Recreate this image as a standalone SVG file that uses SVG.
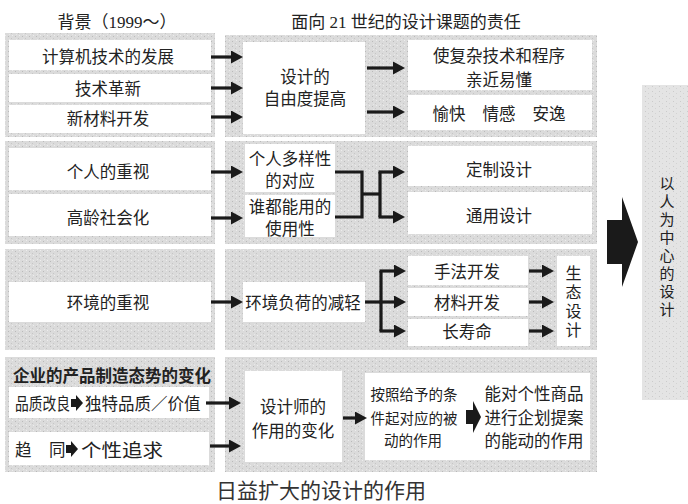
<svg xmlns="http://www.w3.org/2000/svg" width="688" height="504" viewBox="0 0 688 504">
<defs>
<pattern id="dots" width="7" height="5" patternUnits="userSpaceOnUse">
<rect width="7" height="5" fill="#dbdbdb"/>
<rect x="1" y="1" width="1" height="1" fill="#bababa"/>
<rect x="4" y="3" width="1" height="1" fill="#c6c6c6"/>
<rect x="5" y="0" width="1" height="1" fill="#ededed"/>
<rect x="2" y="4" width="1" height="1" fill="#e8e8e8"/>
</pattern>
<pattern id="dots2" width="7" height="5" patternUnits="userSpaceOnUse">
<rect width="7" height="5" fill="#e4e4e4"/>
<rect x="1" y="1" width="1" height="1" fill="#cbcbcb"/>
<rect x="4" y="3" width="1" height="1" fill="#d3d3d3"/>
</pattern>
<marker id="ah" markerUnits="userSpaceOnUse" markerWidth="12" markerHeight="13" viewBox="0 0 12 13" refX="1" refY="6.5" orient="auto">
<path d="M0,0 L12,6.5 L0,13 z" fill="#1a1a1a"/>
</marker>
</defs>
<style>
.p{fill:url(#dots)}
.p2{fill:url(#dots2)}
.w{fill:#ffffff}
text{font-family:"Noto Sans CJK SC","Noto Sans CJK JP",sans-serif;fill:#222;font-size:16.5px;text-anchor:middle;dominant-baseline:central}
.h{font-family:"Liberation Serif","Noto Sans CJK SC",serif;font-size:17px}
.s{font-size:14.5px}
.v{font-size:15px;writing-mode:vertical-rl;text-anchor:start;letter-spacing:3px}
.e{font-size:16px;writing-mode:vertical-rl;text-anchor:start;letter-spacing:3px}
.l{text-anchor:start}
.cap{font-size:21px;fill:#333}
.c{stroke:#1a1a1a;stroke-width:3.2;fill:none}
.a{marker-end:url(#ah)}
.f{fill:#1a1a1a}
</style>

<g id="headers">
<text class="h" x="117" y="22">背景（1999～）</text>
<text class="h" x="406" y="22">面向 21 世纪的设计课题的责任</text>
</g>

<g id="panels">
<rect class="p" x="5" y="33" width="210" height="104"/>
<rect class="p" x="225" y="35" width="372" height="102"/>
<rect class="p" x="5" y="141" width="210" height="103"/>
<rect class="p" x="225" y="141" width="372" height="103"/>
<rect class="p" x="5" y="249" width="210" height="101"/>
<rect class="p" x="225" y="249" width="372" height="101"/>
<rect class="p" x="5" y="357" width="210" height="115"/>
<rect class="p" x="225" y="357" width="372" height="115"/>
<rect class="p2" x="642" y="85" width="46" height="315"/>
</g>

<g id="n-computer"><rect class="w" x="9" y="40" width="202" height="30"/><text x="108" y="56">计算机技术的发展</text></g>
<g id="n-tech"><rect class="w" x="9" y="74" width="202" height="28"/><text x="108" y="88">技术革新</text></g>
<g id="n-material"><rect class="w" x="9" y="105" width="202" height="28"/><text x="108" y="118">新材料开发</text></g>
<g id="n-freedom"><rect class="w" x="243" y="42" width="122" height="92"/><text x="305" y="76">设计的</text><text x="305" y="98">自由度提高</text></g>
<g id="n-familiar"><rect class="w" x="408" y="40" width="184" height="50"/><text x="499" y="55">使复杂技术和程序</text><text x="499" y="79">亲近易懂</text></g>
<g id="n-pleasant"><rect class="w" x="408" y="95" width="184" height="35"/><text x="449" y="113">愉快</text><text x="499" y="113">情感</text><text x="549" y="113">安逸</text></g>

<g id="n-individual"><rect class="w" x="9" y="148" width="202" height="42"/><text x="108" y="171">个人的重视</text></g>
<g id="n-aging"><rect class="w" x="9" y="194" width="202" height="42"/><text x="108" y="217">高龄社会化</text></g>
<g id="n-diversity"><rect class="w" x="245" y="144" width="90" height="48"/><text x="290" y="158">个人多样性</text><text x="290" y="180">的对应</text></g>
<g id="n-usability"><rect class="w" x="245" y="195" width="90" height="42"/><text x="290" y="206">谁都能用的</text><text x="290" y="228">使用性</text></g>
<g id="n-custom"><rect class="w" x="408" y="146" width="184" height="40"/><text x="499" y="169">定制设计</text></g>
<g id="n-universal"><rect class="w" x="408" y="192" width="184" height="42"/><text x="499" y="215">通用设计</text></g>

<g id="n-env"><rect class="w" x="9" y="282" width="202" height="40"/><text x="108" y="302">环境的重视</text></g>
<g id="n-load"><rect class="w" x="243" y="282" width="122" height="40"/><text x="303" y="302">环境负荷的减轻</text></g>
<g id="n-method"><rect class="w" x="408" y="256" width="120" height="29"/><text x="467" y="271">手法开发</text></g>
<g id="n-matdev"><rect class="w" x="408" y="288" width="120" height="28"/><text x="467" y="302">材料开发</text></g>
<g id="n-longlife"><rect class="w" x="408" y="319" width="120" height="27"/><text x="467" y="331">长寿命</text></g>
<g id="n-eco"><rect class="w" x="557" y="256" width="33" height="90"/>
<text class="e" x="573.5" y="264.5">生态设计</text></g>

<g id="n-company">
<text class="l" x="13" y="375" font-weight="bold">企业的产品制造态势的变化</text>
</g>
<g id="n-quality"><rect class="w" x="9" y="387" width="200" height="31"/>
<text class="l" x="15" y="403" textLength="55" lengthAdjust="spacingAndGlyphs">品质改良</text>
<polygon class="f" points="71,399 76,399 76,395 83,403 76,411 76,407 71,407"/>
<text class="l" x="85" y="403">独特品质／价值</text></g>
<g id="n-converge"><rect class="w" x="9" y="432" width="200" height="33"/>
<text class="l" x="15" y="449">趋</text><text class="l" x="49" y="449">同</text>
<polygon class="f" points="66,445 71,445 71,441 78,449 71,457 71,453 66,453"/>
<text class="l" x="81" y="449" style="font-size:18px" textLength="82" lengthAdjust="spacingAndGlyphs">个性追求</text></g>
<g id="n-designer"><rect class="w" x="245" y="371" width="97" height="91"/><text x="293" y="406">设计师的</text><text x="293" y="430">作用的变化</text></g>
<g id="n-passive"><rect class="w" x="365" y="373" width="105" height="87"/>
<text class="s" x="414" y="393">按照给予的条</text><text class="s" x="414" y="417">件起对应的被</text><text class="s" x="413" y="439">动的作用</text></g>
<g id="n-active"><rect class="w" x="470" y="373" width="120" height="87"/>
<text x="534" y="393">能对个性商品</text><text x="534" y="417">进行企划提案</text><text x="534" y="440">的能动的作用</text></g>

<g id="n-human"><text class="v" x="667" y="175.5">以人为中心的设计</text></g>

<g id="connectors">
<path class="c a" d="M211,57 H232"/>
<path class="c a" d="M211,88 H232"/>
<path class="c a" d="M211,117 H232"/>
<path class="c a" d="M367,68 H394"/>
<path class="c a" d="M367,112 H394"/>
<path class="c a" d="M211,172 H232"/>
<path class="c a" d="M211,218 H232"/>
<path class="c" d="M335,172 H362 V217 H335"/>
<path class="c" d="M362,194 H380"/>
<path class="c" d="M380,172 V217"/>
<path class="c a" d="M378.5,172 H394"/>
<path class="c a" d="M378.5,217 H394"/>
<path class="c a" d="M211,302 H232"/>
<path class="c" d="M365,302 H381"/>
<path class="c" d="M381,271 V331"/>
<path class="c a" d="M379.5,271 H395"/>
<path class="c a" d="M379.5,302 H395"/>
<path class="c a" d="M379.5,331 H395"/>
<path class="c a" d="M529,271 H543"/>
<path class="c a" d="M529,302 H543"/>
<path class="c a" d="M529,331 H543"/>
<path class="c a" d="M206,403 H230"/>
<path class="c a" d="M210,446 H230"/>
<path class="c a" d="M343,418 H356"/>
<polygon class="f" points="466,410 473,410 473,401 481,417 473,433 473,424 466,424"/>
<polygon class="f" points="607,220 622,220 622,197 638,242 622,287 622,264 607,264"/>
</g>

<g id="caption">
<text class="cap" x="321" y="489">日益扩大的设计的作用</text>
</g>
</svg>
